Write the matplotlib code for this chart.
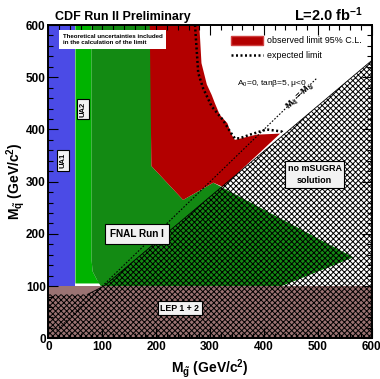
import matplotlib
matplotlib.use("Agg")
import matplotlib.pyplot as plt
from matplotlib.patches import Patch, Polygon
from matplotlib.lines import Line2D
from matplotlib.ticker import MultipleLocator

plt.rcParams["font.family"] = ["Liberation Sans", "DejaVu Sans"]
plt.rcParams["mathtext.fontset"] = "custom"
plt.rcParams["mathtext.rm"] = "Liberation Sans:bold"
plt.rcParams["mathtext.it"] = "Liberation Sans:bold:italic"
plt.rcParams["mathtext.bf"] = "Liberation Sans:bold"
plt.rcParams["mathtext.default"] = "regular"
plt.rcParams["hatch.linewidth"] = 0.7

# exclusion regions in (M_gluino, M_squark), GeV/c^2
ua1_x = [0, 50, 50, 0]
ua1_y = [100, 100, 600, 600]
ua2_x = [50, 80, 80, 82, 90, 97, 50]
ua2_y = [600, 600, 150, 128, 112, 105, 105]
fnal_x = [80, 190, 191, 250, 306, 566, 433, 97, 90, 82, 80]
fnal_y = [600, 600, 330, 265, 298, 155, 100, 100, 112, 128, 150]
obs_x = [188, 280, 284, 294, 303, 309, 318, 332, 340, 346, 386, 430, 324, 306, 250, 191]
obs_y = [600, 600, 527, 486, 466, 450, 428, 412, 390, 380, 390, 392, 290, 298, 265, 330]
exp_x = [272, 278, 287, 303, 324, 337, 346, 355, 374, 405, 433, 437]
exp_y = [600, 508, 479, 444, 418, 396, 383, 383, 390, 400, 396, 390]
lep_x = [0, 600, 600, 0]
lep_y = [0, 0, 100, 100]
nosol_x = [103, 600, 600]
nosol_y = [100, 532, 100]
hatch_x = [0, 0, 72, 103, 600, 600]
hatch_y = [0, 84, 84, 100, 532, 0]
diag_x = [15, 498]
diag_y = [15, 498]

c_blue = "#4b4be6"
c_lgreen = "#00b300"
c_dgreen = "#138a13"
c_red = "#b30000"
c_lep = "#9b7373"

fig = plt.figure(figsize=(3.8, 3.79), dpi=100)
ax = fig.add_axes([0.1276, 0.1074, 0.8505, 0.8266])
ax.set_xlim(0, 600)
ax.set_ylim(0, 600)


def region(xs, ys, **kw):
    ax.add_patch(Polygon(list(zip(xs, ys)), closed=True, **kw))


region(ua1_x, ua1_y, facecolor=c_blue, edgecolor="none")
region(ua2_x, ua2_y, facecolor=c_lgreen, edgecolor="none")
region(nosol_x, nosol_y, facecolor="white", edgecolor="none")
region(fnal_x, fnal_y, facecolor=c_dgreen, edgecolor="none")
region(obs_x, obs_y, facecolor=c_red, edgecolor="none")
region(lep_x, lep_y, facecolor=c_lep, edgecolor="none")
region(hatch_x, hatch_y, facecolor="none", edgecolor="black", lw=0,
       hatch="xxxxxx")
ax.plot(hatch_x[2:5], hatch_y[2:5], color="black", lw=0.6)

ax.plot(exp_x, exp_y, color="black", lw=1.8, ls=(0, (0.8, 1.0)))
ax.plot(diag_x, diag_y, color="black", lw=0.8, ls=(0, (1.5, 1.5)))

box = dict(boxstyle="square,pad=0.35", fc="#f2f2f2", ec="black", lw=0.8)
ax.text(27, 340, "UA1", rotation=90, fontsize=5.5, fontweight="bold",
        ha="center", va="center", bbox=box)
ax.text(63.5, 439, "UA2", rotation=90, fontsize=5.5, fontweight="bold",
        ha="center", va="center", bbox=box)
ax.text(165, 200, "FNAL Run I", fontsize=7.2, fontweight="bold",
        ha="center", va="center",
        bbox=dict(boxstyle="square,pad=0.5", fc="#f2f2f2", ec="black", lw=0.8))
ax.text(494, 314, "no mSUGRA\nsolution", fontsize=6.5, fontweight="bold",
        ha="center", va="center", linespacing=1.5,
        bbox=dict(boxstyle="square,pad=0.3", fc="#f2f2f2", ec="black", lw=0.8))
ax.text(244, 58, "LEP 1 + 2", fontsize=6.3, fontweight="bold",
        ha="center", va="center",
        bbox=dict(boxstyle="square,pad=0.3", fc="#f2f2f2", ec="black", lw=0.8))
ax.text(27, 572, "Theoretical uncertainties included\nin the calculation of the limit",
        fontsize=4.4, fontweight="bold", ha="left", va="center", linespacing=1.4,
        bbox=dict(boxstyle="square,pad=0.6", fc="white", ec="none"))
ax.text(350, 488, r"A$_0$=0, tan$\beta$=5, $\mu$<0", fontsize=6,
        ha="left", va="center")
ax.text(468, 463, r"M$_{\tilde{q}}$ = M$_{\tilde{g}}$", fontsize=6.5,
        rotation=44, ha="center", va="center", fontweight="bold")

handles = [Patch(facecolor=c_red, edgecolor="#d04040"),
           Line2D([], [], color="black", lw=1.8, ls=(0, (0.8, 1.0)))]
ax.legend(handles, ["observed limit 95% C.L.", "expected limit"],
          loc="upper right", bbox_to_anchor=(0.99, 0.985), frameon=False,
          fontsize=6.4, handlelength=3.6, handleheight=1.2, handletextpad=0.5,
          labelspacing=0.6, borderaxespad=0.3)

ax.xaxis.set_major_locator(MultipleLocator(100))
ax.xaxis.set_minor_locator(MultipleLocator(20))
ax.yaxis.set_major_locator(MultipleLocator(100))
ax.yaxis.set_minor_locator(MultipleLocator(20))
ax.tick_params(which="both", direction="in", top=True, right=True,
               labelsize=8.5, width=0.8, pad=2)
ax.tick_params(which="major", length=7)
ax.tick_params(which="minor", length=3.5)
for lab in ax.get_xticklabels() + ax.get_yticklabels():
    lab.set_fontweight("bold")
for s in ax.spines.values():
    s.set_linewidth(1.4)

ax.set_xlabel(r"M$_{\tilde{g}}$ (GeV/c$^2$)", fontsize=10, fontweight="bold",
              labelpad=3)
ax.set_ylabel(r"M$_{\tilde{q}}$ (GeV/c$^2$)", fontsize=10, fontweight="bold")
ax.yaxis.set_label_coords(-0.065, 0.5)

fig.text(0.145, 0.955, "CDF Run II Preliminary", fontsize=9,
         fontweight="bold", ha="left", va="center")
fig.text(0.955, 0.96, r"L=2.0 fb$^{-1}$", fontsize=10.5, fontweight="bold",
         ha="right", va="center")

fig.savefig("out.png", dpi=100)
